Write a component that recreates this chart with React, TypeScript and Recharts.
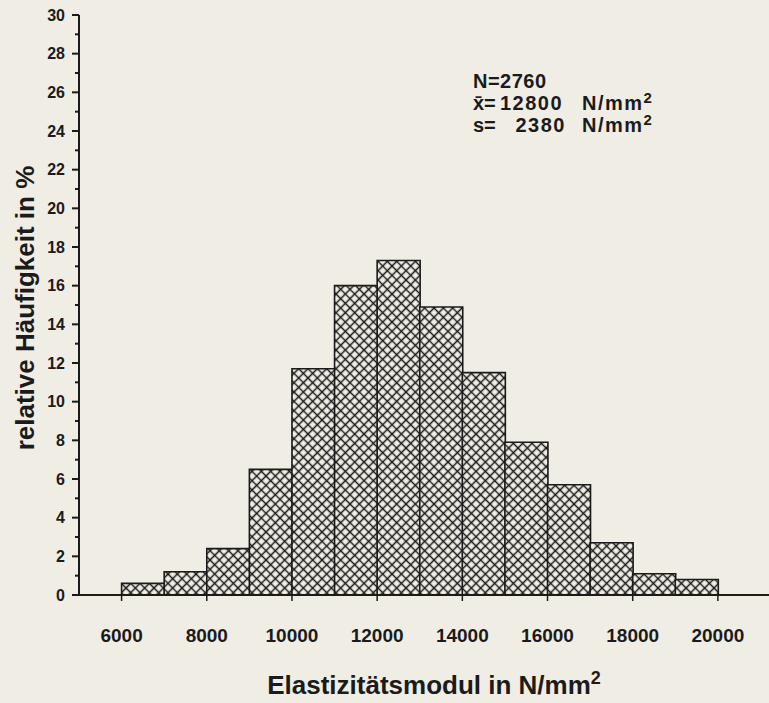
import { Bar, BarChart, XAxis, YAxis } from "recharts";

// Histogram of modulus of elasticity (scanned figure). Bins are 1000 N/mm² wide.
const binStart = [6000, 7000, 8000, 9000, 10000, 11000, 12000, 13000, 14000, 15000, 16000, 17000, 18000, 19000];
const share = [0.6, 1.2, 2.4, 6.5, 11.7, 16.0, 17.3, 14.9, 11.5, 7.9, 5.7, 2.7, 1.1, 0.8];
const binWidth = 1000;
const xTicks = [6000, 8000, 10000, 12000, 14000, 16000, 18000, 20000];
const yTicks = [0, 1, 2, 3, 4, 5, 6, 7, 8, 9, 10, 11, 12, 13, 14, 15, 16, 17, 18, 19, 20, 21, 22, 23, 24, 25, 26, 27, 28, 29, 30];

const INK = "#1b1b1b";
const PAPER = "#f0ede5";
const FONT = "'Liberation Sans', Arial, Helvetica, sans-serif";

const data = binStart.map((s, i) => ({ mid: s + binWidth / 2, pct: share[i] }));

function YTick(props: any) {
  const { x, y, payload } = props;
  const v = payload.value;
  const major = v % 2 === 0;
  return (
    <g>
      <line x1={x - (major ? 7 : 4)} x2={x} y1={y} y2={y} stroke={INK} strokeWidth={2} />
      {major && (
        <text x={x - 14} y={y} dy="0.36em" textAnchor="end" fill={INK} fontSize={16} fontWeight="bold" fontFamily={FONT}>
          {v}
        </text>
      )}
    </g>
  );
}

export default function App() {
  return (
    <div style={{ position: "absolute", left: 0, top: 0, width: 769, height: 703, background: PAPER }}>
      <BarChart width={769} height={703} data={data} margin={{ top: 15, right: 0, bottom: 0, left: 0 }} barCategoryGap={0} barGap={0}>
        <defs>
          <pattern id="xhatch" patternUnits="userSpaceOnUse" width={6.6} height={6.6} patternTransform="rotate(45)">
            <rect width={6.6} height={6.6} fill={PAPER} />
            <path d="M0 3.3 H6.6 M3.3 0 V6.6" stroke={INK} strokeWidth={1.5} />
          </pattern>
        </defs>
        <XAxis
          dataKey="mid"
          type="number"
          domain={[5000, 21200]}
          ticks={xTicks}
          interval={0}
          height={108}
          tickSize={6}
          tickMargin={28}
          axisLine={{ stroke: INK, strokeWidth: 2 }}
          tickLine={{ stroke: INK, strokeWidth: 1.5 }}
          tick={{ fill: INK, fontSize: 19, fontWeight: "bold", fontFamily: FONT }}
        />
        <YAxis
          type="number"
          domain={[0, 30]}
          ticks={yTicks}
          interval={0}
          width={79}
          tickSize={0}
          tickMargin={0}
          tickLine={false}
          axisLine={{ stroke: INK, strokeWidth: 2 }}
          tick={<YTick />}
        />
        <Bar dataKey="pct" fill="url(#xhatch)" stroke={INK} strokeWidth={1.6} isAnimationActive={false} />
        <text
          x={25}
          y={308}
          transform="rotate(-90, 25, 308)"
          textAnchor="middle"
          dominantBaseline="central"
          fill={INK}
          fontSize={26}
          fontWeight="bold"
          fontFamily={FONT}
        >
          relative Häufigkeit in %
        </text>
        <text x={434} y={694} textAnchor="middle" fill={INK} fontSize={26} fontWeight="bold" fontFamily={FONT}>
          Elastizitätsmodul in N/mm
          <tspan dy={-10} fontSize={18}>2</tspan>
        </text>
        <g fill={INK} fontWeight="bold" fontFamily={FONT} fontSize={20}>
          <text x={473} y={88} letterSpacing={0.5}>N=2760</text>
          <text y={110}>
            <tspan x={473}>{"x\u0304="}</tspan>
            <tspan x={500} letterSpacing={1.5}>12800</tspan>
          </text>
          <text y={110} x={582}>
            <tspan letterSpacing={1.5}>N/mm</tspan>
            <tspan dy={-7} fontSize={15}>2</tspan>
          </text>
          <text y={132} x={473}>s=</text>
          <text y={132} x={566} textAnchor="end" letterSpacing={1.5}>
            2380
          </text>
          <text y={132} x={582}>
            <tspan letterSpacing={1.5}>N/mm</tspan>
            <tspan dy={-7} fontSize={15}>2</tspan>
          </text>
        </g>
      </BarChart>
    </div>
  );
}
